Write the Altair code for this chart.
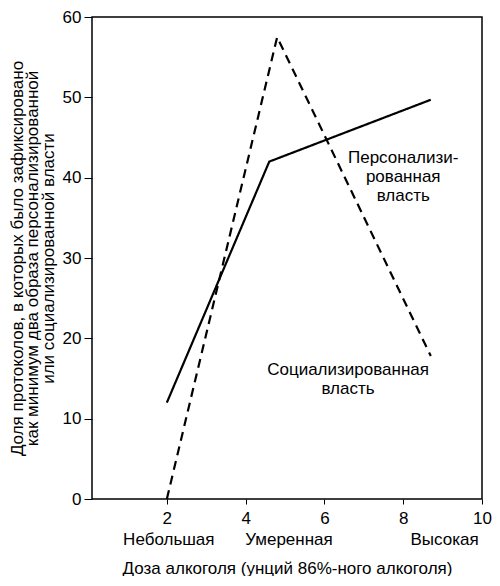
"Доза алкоголя и образы власти: персонализированная и социализированная"

import pandas as pd
import altair as alt

# values
personal_dose = [2, 4.6, 8.7]
personal_share = [12, 42, 49.7]
social_dose = [2, 4.8, 8.7]
social_share = [0, 57.5, 17.8]

level_names = ["Небольшая", "Умеренная", "Высокая"]
level_dose = [2.05, 5.1, 9.05]

x_ticks = [2, 4, 6, 8, 10]
y_ticks = [0, 10, 20, 30, 40, 50, 60]

FONT = "Liberation Sans"
W, H = 390, 482

lines = pd.concat([
    pd.DataFrame({"dose": personal_dose, "share": personal_share,
                  "series": "Персонализированная власть"}),
    pd.DataFrame({"dose": social_dose, "share": social_share,
                  "series": "Социализированная власть"}),
])

labels = pd.DataFrame({
    "dose": [8.0, 6.6],
    "share": [42.5, 16.0],
    "text": [["Персонализи-", "рованная", "власть"],
             ["Социализированная", "власть"]],
})

levels = pd.DataFrame({"dose": level_dose, "name": level_names})

x_scale = alt.Scale(domain=[0.1, 10], nice=False)
y_scale = alt.Scale(domain=[0, 60], nice=False)

base = alt.Chart(lines)

line_chart = base.mark_line(color="black", strokeWidth=2.2).encode(
    x=alt.X("dose:Q", scale=x_scale, axis=alt.Axis(
        values=x_ticks, grid=False, domain=False, tickColor="black",
        tickSize=5, labelPadding=6, labelFontSize=17, labelFont=FONT,
        labelColor="black", labelFlush=False,
        title="Доза алкоголя (унций 86%-ного алкоголя)",
        titleFont=FONT, titleFontSize=17, titleFontWeight="normal",
        titleColor="black", titlePadding=34)),
    y=alt.Y("share:Q", scale=y_scale, axis=alt.Axis(
        values=y_ticks, grid=False, domain=False, tickColor="black",
        tickSize=8, labelPadding=3, labelFontSize=17, labelFont=FONT,
        labelColor="black",
        title=["Доля протоколов, в которых было зафиксировано",
               "как минимум два образа персонализированной",
               "или социализированной власти"],
        titleFont=FONT, titleFontSize=17, titleFontWeight="normal",
        titleColor="black", titleLineHeight=15.5, titlePadding=5)),
    strokeDash=alt.StrokeDash("series:N", legend=None, scale=alt.Scale(
        domain=["Персонализированная власть", "Социализированная власть"],
        range=[[1, 0], [9, 6]])),
    detail="series:N",
)

series_text = alt.Chart(labels).mark_text(
    font=FONT, fontSize=17, color="black", lineHeight=19, align="center"
).encode(x=alt.X("dose:Q", scale=x_scale), y=alt.Y("share:Q", scale=y_scale),
         text="text")

level_text = alt.Chart(levels).mark_text(
    font=FONT, fontSize=17, color="black", align="center", baseline="middle"
).encode(x=alt.X("dose:Q", scale=x_scale), y=alt.value(H + 41), text="name")

chart = alt.layer(line_chart, series_text, level_text).properties(
    width=W, height=H, padding={"left": 0, "top": 0, "right": 0, "bottom": 0}
).configure_view(stroke="black", strokeWidth=1.5)

chart.save("out.html", embed_options={"renderer": "svg", "actions": False})
